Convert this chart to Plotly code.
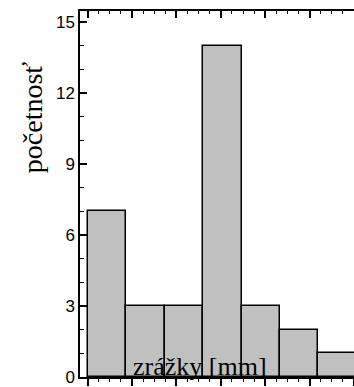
import plotly.graph_objects as go

# histogram of precipitation
bin_edges = [0, 26, 52, 78, 104, 130, 156, 182]
counts = [7, 3, 3, 14, 3, 2, 1]
y_ticks = [0, 3, 6, 9, 12, 15]

centers = [(a + b) / 2 for a, b in zip(bin_edges[:-1], bin_edges[1:])]
widths = [b - a for a, b in zip(bin_edges[:-1], bin_edges[1:])]

fig = go.Figure()
fig.add_trace(go.Bar(
    x=centers, y=counts, width=widths,
    marker=dict(color="#c0c0c0", line=dict(color="black", width=1.5)),
    showlegend=False, hoverinfo="skip",
))
# invisible trace so the top axis gets drawn
fig.add_trace(go.Scatter(x=[bin_edges[0]], y=[0], xaxis="x2", mode="markers",
                         marker=dict(opacity=0), showlegend=False, hoverinfo="skip"))

x_range = [-5.2, 180]
fig.update_layout(
    width=354, height=387,
    margin=dict(l=80, r=0, t=11, b=8),
    plot_bgcolor="white", paper_bgcolor="white",
    font=dict(family="Liberation Sans, Arial", size=17, color="black"),
    bargap=0,
    xaxis=dict(
        range=x_range, showline=True, linecolor="black", linewidth=1.5,
        ticks="outside", ticklen=7, tickwidth=1.5, tickcolor="black",
        tick0=0, dtick=30, showticklabels=False, showgrid=False, zeroline=False,
        minor=dict(ticks="outside", dtick=7.5, ticklen=3, tickcolor="black", tickwidth=1),
    ),
    xaxis2=dict(
        range=x_range, overlaying="x", side="top", showline=True, linecolor="black",
        linewidth=1.5, ticks="inside", ticklen=7, tickwidth=1.5, tickcolor="black",
        tick0=0, dtick=30, showticklabels=False, showgrid=False, zeroline=False,
        minor=dict(ticks="inside", dtick=7.5, ticklen=3, tickcolor="black", tickwidth=1),
    ),
    yaxis=dict(
        range=[0, 15.46], showline=True, linecolor="black", linewidth=1.5,
        ticks="inside", ticklen=7, tickwidth=1.5, tickcolor="black",
        tickvals=y_ticks, showgrid=False, zeroline=False, ticklabeloverflow="allow",
        minor=dict(ticks="inside", dtick=1, ticklen=4, tickcolor="black", tickwidth=1),
    ),
    annotations=[
        dict(text="zrážky [mm]", xref="paper", yref="paper", x=0.438, y=0.03,
             xanchor="center", yanchor="middle", showarrow=False,
             font=dict(family="Liberation Serif, Times New Roman", size=26)),
        dict(text="početnosť", xref="paper", yref="paper", x=-0.175, y=0.71,
             xanchor="center", yanchor="middle", showarrow=False, textangle=-90,
             font=dict(family="Liberation Serif, Times New Roman", size=28)),
    ],
)

fig.write_html("out.html", config={"displayModeBar": False},
               post_script="document.body.style.margin='0';")
